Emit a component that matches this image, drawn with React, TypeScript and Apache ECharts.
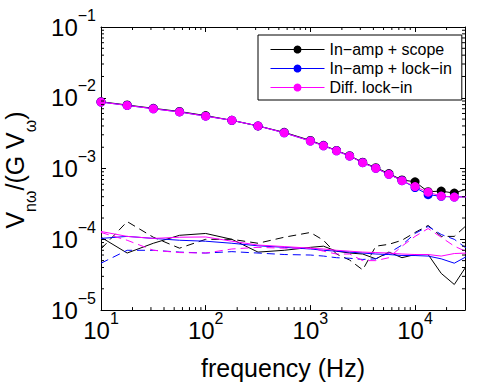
import React, { useEffect, useRef } from "react";
import * as echarts from "echarts";

const FONT = '"Liberation Sans", Arial, Helvetica, sans-serif';

// frequencies (Hz)
const freqs = [10, 17.78, 31.62, 56.23, 100, 177.8, 316.2, 562.3, 1000, 1334, 1778, 2371, 3162, 4217, 5623, 7499, 10000, 13335, 17783, 23714, 31623];

// signal curves
const ampScope = [0.0088, 0.0079, 0.0071, 0.0064, 0.0056, 0.0048, 0.0040, 0.00325, 0.0025, 0.00213, 0.0018, 0.00152, 0.00123, 0.00103, 0.00085, 0.00069, 0.00065, 0.00047, 0.00048, 0.00045, 0.00052];
const ampLockin = [0.0087, 0.0078, 0.0070, 0.0063, 0.0055, 0.0048, 0.0040, 0.0032, 0.00245, 0.0021, 0.00178, 0.0015, 0.00121, 0.00101, 0.00083, 0.000675, 0.00054, 0.000428, 0.000405, 0.000396, 0.0004];
const diffLockin = [0.0087, 0.0078, 0.0070, 0.0063, 0.0055, 0.0048, 0.0040, 0.0032, 0.00245, 0.0021, 0.00178, 0.0015, 0.00121, 0.00101, 0.00083, 0.000675, 0.000557, 0.000464, 0.000408, 0.000396, 0.000398];

// noise floors
const scopeNoiseA = [1.07e-4, 0.64e-4, 0.88e-4, 1.14e-4, 1.21e-4, 1.0e-4, 0.66e-4, 0.70e-4, 0.77e-4, 0.80e-4, 0.68e-4, 0.64e-4, 0.62e-4, 0.53e-4, 0.66e-4, 0.55e-4, 0.61e-4, 0.61e-4, 0.33e-4, 0.23e-4, 0.44e-4];
const scopeNoiseB = [0.73e-4, 1.78e-4, 1.07e-4, 0.75e-4, 1.0e-4, 1.0e-4, 0.88e-4, 1.07e-4, 1.25e-4, 0.97e-4, 0.62e-4, 0.51e-4, 0.37e-4, 0.80e-4, 0.85e-4, 0.97e-4, 1.25e-4, 1.57e-4, 1.10e-4, 1.10e-4, 1.62e-4];
const lockinNoiseA = [1.03e-4, 1.10e-4, 1.03e-4, 0.97e-4, 0.94e-4, 0.88e-4, 0.81e-4, 0.77e-4, 0.73e-4, 0.70e-4, 0.68e-4, 0.66e-4, 0.64e-4, 0.62e-4, 0.61e-4, 0.59e-4, 0.59e-4, 0.58e-4, 0.53e-4, 0.46e-4, 0.58e-4];
const lockinNoiseB = [0.46e-4, 0.70e-4, 0.70e-4, 0.66e-4, 0.64e-4, 0.67e-4, 0.64e-4, 0.61e-4, 0.60e-4, 0.58e-4, 0.55e-4, 0.54e-4, 0.52e-4, 0.53e-4, 0.64e-4, 0.83e-4, 1.21e-4, 1.52e-4, 1.17e-4, 1.0e-4, 0.73e-4];
const diffNoiseA = [1.29e-4, 1.10e-4, 1.03e-4, 1.07e-4, 1.08e-4, 0.94e-4, 0.83e-4, 0.79e-4, 0.75e-4, 0.73e-4, 0.70e-4, 0.68e-4, 0.66e-4, 0.65e-4, 0.64e-4, 0.62e-4, 0.61e-4, 0.61e-4, 0.58e-4, 0.63e-4, 0.64e-4];
const diffNoiseB = [1.25e-4, 0.97e-4, 0.70e-4, 0.65e-4, 0.64e-4, 0.73e-4, 0.77e-4, 0.75e-4, 0.75e-4, 0.68e-4, 0.62e-4, 0.62e-4, 0.50e-4, 0.50e-4, 0.55e-4, 0.80e-4, 1.10e-4, 1.42e-4, 1.07e-4, 0.80e-4, 0.66e-4];

const legendNames = ["In−amp + scope", "In−amp + lock−in", "Diff. lock−in"];

// minor tick values
const xMinorTicks = [20, 30, 40, 50, 60, 70, 80, 90, 200, 300, 400, 500, 600, 700, 800, 900, 2000, 3000, 4000, 5000, 6000, 7000, 8000, 9000, 20000];
const yMinorTicks = [2e-5, 3e-5, 4e-5, 5e-5, 6e-5, 7e-5, 8e-5, 9e-5, 2e-4, 3e-4, 4e-4, 5e-4, 6e-4, 7e-4, 8e-4, 9e-4, 2e-3, 3e-3, 4e-3, 5e-3, 6e-3, 7e-3, 8e-3, 9e-3, 2e-2, 3e-2, 4e-2, 5e-2, 6e-2, 7e-2, 8e-2, 9e-2];

const X_MIN = 10;
const X_MAX = 30000;
const Y_MIN = 1e-5;
const Y_MAX = 1e-1;

const pair = (ys: number[]) => freqs.map((f, i) => [f, ys[i]]);

const powLabel = (v: number) => {
  const l = Math.log10(v);
  const e = Math.round(l);
  if (Math.abs(l - e) > 1e-6) return "";
  const s = e < 0 ? "−" + -e : String(e);
  return "{b|10}{s|" + s + "}";
};

const labelRich = {
  b: { fontSize: 24, lineHeight: 24, fontFamily: FONT, color: "#000" },
  s: { fontSize: 16, lineHeight: 16, padding: [0, 0, 24, 0], fontFamily: FONT, color: "#000" },
};

export default function App() {
  const ref = useRef<HTMLDivElement>(null);
  useEffect(() => {
    if (!ref.current) return;
    const chart = echarts.init(ref.current, undefined, { renderer: "svg" });
    const axisLine = { show: true, lineStyle: { color: "#000", width: 1 } };
    const tick = { show: true, inside: true, length: 5, lineStyle: { color: "#000", width: 1 } };

    const upper = (name: string, data: number[], color: string) => ({
      type: "line",
      name,
      data: pair(data),
      symbol: "circle",
      symbolSize: 9,
      showSymbol: true,
      itemStyle: { color, borderWidth: 0 },
      lineStyle: { color, width: 1 },
      clip: true,
      silent: true,
    });
    const noise = (data: number[], color: string, dashed: boolean) => ({
      type: "line",
      data: pair(data),
      showSymbol: false,
      symbol: "none",
      lineStyle: { color, width: 1, type: dashed ? [8, 5] : "solid" },
      clip: true,
      silent: true,
    });
    const tickStyle = { stroke: "#000", lineWidth: 1 };

    chart.setOption({
      animation: false,
      backgroundColor: "#fff",
      textStyle: { fontFamily: FONT },
      grid: { left: 101, top: 27, width: 364, height: 288, containLabel: false },
      xAxis: [
        {
          type: "log",
          logBase: 10,
          min: X_MIN,
          max: X_MAX,
          position: "bottom",
          axisLine,
          axisTick: tick,
          splitLine: { show: false },
          axisLabel: {
            formatter: powLabel,
            margin: 8,
            rich: labelRich,
            showMaxLabel: false,
          },
          name: "frequency (Hz)",
          nameLocation: "middle",
          nameGap: 42,
          nameTextStyle: { fontSize: 25, lineHeight: 25, color: "#000", fontFamily: FONT },
        },
        {
          type: "log",
          logBase: 10,
          min: X_MIN,
          max: X_MAX,
          position: "top",
          axisLine,
          axisTick: tick,
          splitLine: { show: false },
          axisLabel: { show: false },
        },
      ],
      yAxis: [
        {
          type: "log",
          logBase: 10,
          min: Y_MIN,
          max: Y_MAX,
          position: "left",
          axisLine,
          axisTick: tick,
          splitLine: { show: false },
          axisLabel: { formatter: powLabel, margin: 5, rich: labelRich },
        },
        {
          type: "log",
          logBase: 10,
          min: Y_MIN,
          max: Y_MAX,
          position: "right",
          axisLine,
          axisTick: tick,
          splitLine: { show: false },
          axisLabel: { show: false },
        },
      ],
      legend: {
        data: legendNames,
        orient: "vertical",
        left: 258,
        top: 35,
        padding: [5, 10, 3, 12],
        itemWidth: 54,
        itemHeight: 10,
        itemGap: 0,
        backgroundColor: "#fff",
        borderColor: "#000",
        borderWidth: 1,
        borderRadius: 0,
        selectedMode: false,
        lineStyle: { width: 1 },
        textStyle: { fontSize: 16, lineHeight: 19, color: "#000", fontFamily: FONT },
      },
      graphic: [
        {
          type: "text",
          x: 15,
          y: 170,
          rotation: Math.PI / 2,
          style: {
            text: "{m|V}{s|nω}{m|/(G V}{s|ω}{m|)}",
            align: "center",
            verticalAlign: "middle",
            fill: "#000",
            rich: {
              m: { fontSize: 25, lineHeight: 25, fontFamily: FONT, fill: "#000", color: "#000" },
              s: { fontSize: 16, lineHeight: 16, padding: [30, 0, 0, 0], fontFamily: FONT, fill: "#000", color: "#000" },
            },
          },
        },
      ],
      series: [
        {
          type: "custom",
          silent: true,
          z: 5,
          data: xMinorTicks.map((v) => [v, 1e-3]),
          renderItem: (params: any, api: any) => {
            const x = api.coord([api.value(0), api.value(1)])[0];
            const cs = params.coordSys;
            return {
              type: "group",
              children: [
                { type: "line", shape: { x1: x, y1: cs.y + cs.height, x2: x, y2: cs.y + cs.height - 3 }, style: tickStyle },
                { type: "line", shape: { x1: x, y1: cs.y, x2: x, y2: cs.y + 3 }, style: tickStyle },
              ],
            };
          },
        },
        {
          type: "custom",
          silent: true,
          z: 5,
          data: yMinorTicks.map((v) => [100, v]),
          renderItem: (params: any, api: any) => {
            const y = api.coord([api.value(0), api.value(1)])[1];
            const cs = params.coordSys;
            return {
              type: "group",
              children: [
                { type: "line", shape: { x1: cs.x, y1: y, x2: cs.x + 3, y2: y }, style: tickStyle },
                { type: "line", shape: { x1: cs.x + cs.width, y1: y, x2: cs.x + cs.width - 3, y2: y }, style: tickStyle },
              ],
            };
          },
        },
        noise(scopeNoiseA, "#000000", false),
        noise(scopeNoiseB, "#000000", true),
        noise(lockinNoiseA, "#0000ff", false),
        noise(lockinNoiseB, "#0000ff", true),
        noise(diffNoiseA, "#ff00ff", false),
        noise(diffNoiseB, "#ff00ff", true),
        upper(legendNames[0], ampScope, "#000000"),
        upper(legendNames[1], ampLockin, "#0000ff"),
        upper(legendNames[2], diffLockin, "#ff00ff"),
      ],
    });
    return () => chart.dispose();
  }, []);
  return (
    <div
      ref={ref}
      style={{ position: "fixed", left: 0, top: 0, width: 485, height: 385, background: "#fff" }}
    />
  );
}
